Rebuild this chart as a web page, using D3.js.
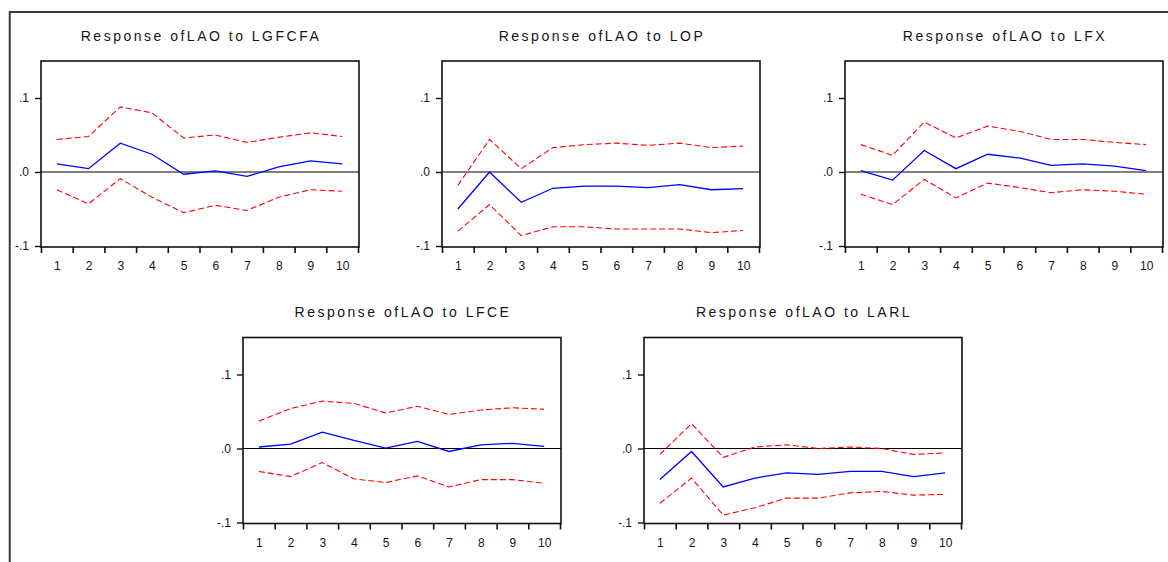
<!DOCTYPE html>
<html>
<head>
<meta charset="utf-8">
<script src="https://cdn.jsdelivr.net/npm/d3@7"></script>
<style>
  html, body { margin: 0; padding: 0; background: #fff; }
  svg { display: block; }
  text { font-family: "Liberation Sans", Arial, sans-serif; fill: #151515; }
</style>
</head>
<body>
<svg id="chart" width="1168" height="562"></svg>
<script>
// ---- data ----
const periods = [1, 2, 3, 4, 5, 6, 7, 8, 9, 10];
const yTickValues = [-0.1, 0, 0.1];
const yTickLabels = ["-.1", ".0", ".1"];
const titles = [
  "Response ofLAO to LGFCFA",
  "Response ofLAO to LOP",
  "Response ofLAO to LFX",
  "Response ofLAO to LFCE",
  "Response ofLAO to LARL"
];

const lgfcfaResp  = [0.011, 0.0045, 0.039, 0.024, -0.003, 0.0015, -0.006, 0.007, 0.015, 0.011];
const lgfcfaUpper = [0.044, 0.048, 0.088, 0.080, 0.046, 0.050, 0.040, 0.047, 0.053, 0.048];
const lgfcfaLower = [-0.024, -0.043, -0.009, -0.034, -0.055, -0.045, -0.052, -0.034, -0.024, -0.026];

const lopResp  = [-0.050, 0.000, -0.041, -0.022, -0.019, -0.019, -0.021, -0.017, -0.024, -0.0225];
const lopUpper = [-0.018, 0.044, 0.0045, 0.033, 0.037, 0.039, 0.036, 0.039, 0.033, 0.035];
const lopLower = [-0.080, -0.044, -0.086, -0.074, -0.074, -0.077, -0.077, -0.077, -0.082, -0.079];

const lfxResp  = [0.002, -0.011, 0.029, 0.0045, 0.024, 0.019, 0.009, 0.011, 0.008, 0.002];
const lfxUpper = [0.037, 0.0225, 0.0675, 0.046, 0.062, 0.055, 0.044, 0.044, 0.040, 0.037];
const lfxLower = [-0.030, -0.044, -0.010, -0.035, -0.015, -0.021, -0.028, -0.024, -0.026, -0.030];

const lfceResp  = [0.002, 0.006, 0.022, 0.011, 0.0005, 0.0095, -0.004, 0.005, 0.007, 0.003];
const lfceUpper = [0.037, 0.054, 0.064, 0.061, 0.048, 0.057, 0.046, 0.052, 0.055, 0.053];
const lfceLower = [-0.031, -0.038, -0.019, -0.041, -0.046, -0.037, -0.052, -0.042, -0.042, -0.047];

const larlResp  = [-0.042, -0.004, -0.052, -0.040, -0.033, -0.035, -0.031, -0.031, -0.038, -0.033];
const larlUpper = [-0.008, 0.0335, -0.012, 0.002, 0.005, 0.000, 0.002, 0.000, -0.008, -0.006];
const larlLower = [-0.074, -0.040, -0.090, -0.080, -0.067, -0.067, -0.060, -0.058, -0.063, -0.062];

const panelSeries = [
  [lgfcfaResp, lgfcfaUpper, lgfcfaLower],
  [lopResp, lopUpper, lopLower],
  [lfxResp, lfxUpper, lfxLower],
  [lfceResp, lfceUpper, lfceLower],
  [larlResp, larlUpper, larlLower]
];

// ---- layout ----
const boxes = [
  { left: 41,  top: 61 },
  { left: 442, top: 61 },
  { left: 845, top: 61 },
  { left: 243, top: 337.5 },
  { left: 644, top: 337.5 }
];
const W = 318, H = 186;

const svg = d3.select("#chart");

// outer frame (left and top edges visible)
svg.append("path")
  .attr("d", "M9.75,562 V12 H1168")
  .attr("fill", "none")
  .attr("stroke", "#3a3a3a")
  .attr("stroke-width", 2);

boxes.forEach((b, i) => {
  const g = svg.append("g");
  const x = d3.scaleLinear().domain([0.5, 10.5]).range([b.left, b.left + W - 1]);
  const y = d3.scaleLinear().domain([-0.1, 0.15]).range([b.top + H - 1, b.top]);

  // title
  g.append("text")
    .attr("x", b.left + W / 2 + 1)
    .attr("y", b.top - 20.5)
    .attr("text-anchor", "middle")
    .style("font-size", "14px")
    .style("letter-spacing", "2.5px")
    .text(titles[i]);

  // zero line
  g.append("line")
    .attr("x1", b.left).attr("x2", b.left + W)
    .attr("y1", y(0)).attr("y2", y(0))
    .attr("stroke", "#000").attr("stroke-width", 1.2);

  // series
  const line = d3.line().x((d, k) => x(periods[k])).y(d => y(d));
  const [resp, up, lo] = panelSeries[i];
  [up, lo].forEach(s => {
    g.append("path").datum(s)
      .attr("d", line)
      .attr("fill", "none")
      .attr("stroke", "#ff0000")
      .attr("stroke-width", 1.1)
      .attr("stroke-dasharray", "6,3");
  });
  g.append("path").datum(resp)
    .attr("d", line)
    .attr("fill", "none")
    .attr("stroke", "#0000ff")
    .attr("stroke-width", 1.3);

  // box
  g.append("rect")
    .attr("x", b.left).attr("y", b.top)
    .attr("width", W).attr("height", H)
    .attr("fill", "none")
    .attr("stroke", "#111")
    .attr("stroke-width", 1.6);

  // y axis
  const yAxis = d3.axisLeft(y)
    .tickValues(yTickValues)
    .tickFormat((d, k) => yTickLabels[k])
    .tickSize(6).tickPadding(6);
  const ya = g.append("g").attr("transform", `translate(${b.left},0)`).call(yAxis);
  ya.select(".domain").remove();
  ya.selectAll("line").attr("stroke", "#111").attr("stroke-width", 1.4);
  ya.selectAll("text").style("font-size", "12px").attr("font-family", null);

  // x axis tick marks at band edges
  const edges = [0.5].concat(periods.map(p => p + 0.5));
  const xTicks = d3.axisBottom(x).tickValues(edges).tickFormat("").tickSize(6);
  const xa = g.append("g").attr("transform", `translate(0,${b.top + H})`).call(xTicks);
  xa.select(".domain").remove();
  xa.selectAll("line").attr("stroke", "#111").attr("stroke-width", 1.6);

  // x labels
  const xLabels = d3.axisBottom(x).tickValues(periods).tickFormat(d => String(d)).tickSize(0).tickPadding(14.5);
  const xl = g.append("g").attr("transform", `translate(0,${b.top + H})`).call(xLabels);
  xl.select(".domain").remove();
  xl.selectAll("text").style("font-size", "12px").attr("font-family", null);
});
</script>
</body>
</html>
